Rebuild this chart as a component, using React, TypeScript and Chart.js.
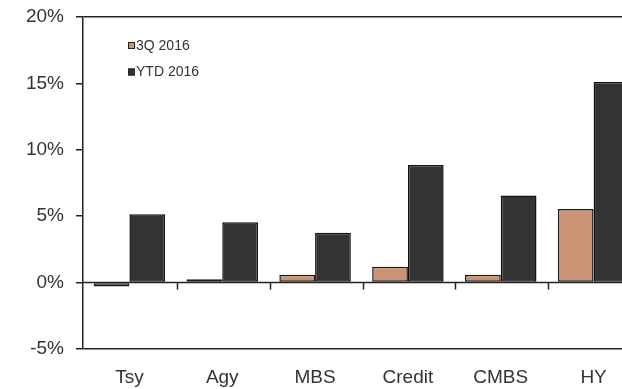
import React, { useEffect, useRef } from "react";
import { Chart, registerables } from "chart.js";

Chart.register(...registerables);

const categories = ["Tsy", "Agy", "MBS", "Credit", "CMBS", "HY"];
const q3_2016 = [-0.3, 0.25, 0.6, 1.2, 0.6, 5.55];
const ytd_2016 = [5.15, 4.55, 3.75, 8.85, 6.55, 15.1];
const seriesNames = ["3Q 2016", "YTD 2016"];
const yTicks = { min: -5, max: 20, step: 5 };

const COLOR_3Q = "#CB9475";
const COLOR_YTD = "#333333";

const zeroLinePlugin = {
  id: "zeroLine",
  beforeDatasetsDraw(chart: any) {
    const { ctx, chartArea, scales } = chart;
    const x = scales.x;
    const y = scales.y;
    const y0 = y.getPixelForValue(0);
    ctx.save();
    ctx.strokeStyle = "#222";
    ctx.lineWidth = 1.5;
    ctx.beginPath();
    ctx.moveTo(chartArea.left, y0);
    ctx.lineTo(chartArea.right, y0);
    ctx.stroke();
    const n = categories.length;
    for (let i = 0; i < n - 1; i++) {
      const xa = x.getPixelForValue(i);
      const xb = x.getPixelForValue(i + 1);
      const xm = Math.round((xa + xb) / 2) + 1.5;
      ctx.beginPath();
      ctx.moveTo(xm, y0);
      ctx.lineTo(xm, y0 + 7);
      ctx.stroke();
    }
    ctx.restore();
  },
};

const legendPlugin = {
  id: "innerLegend",
  afterDraw(chart: any) {
    const { ctx } = chart;
    const items = chart.data.datasets.map((d: any) => ({
      label: d.label,
      color: d.backgroundColor,
    }));
    const x0 = 128;
    const ys = [45.5, 72];
    ctx.save();
    items.forEach((it: any, i: number) => {
      const y = ys[i];
      ctx.fillStyle = it.color;
      ctx.fillRect(x0, y - 3.5, 7, 7);
      ctx.strokeStyle = "#222";
      ctx.lineWidth = 1;
      ctx.strokeRect(x0 + 0.5, y - 3, 6, 6);
      ctx.fillStyle = "#333";
      ctx.font = "14px 'Liberation Sans', Arial, sans-serif";
      ctx.textBaseline = "middle";
      ctx.textAlign = "left";
      ctx.fillText(it.label, x0 + 8, y + 0.5);
    });
    ctx.restore();
  },
};

export default function App() {
  const ref = useRef<HTMLCanvasElement | null>(null);

  useEffect(() => {
    if (!ref.current) return;
    const chart = new Chart(ref.current, {
      type: "bar",
      data: {
        labels: categories,
        datasets: [
          {
            label: seriesNames[0],
            data: q3_2016,
            backgroundColor: COLOR_3Q,
            borderColor: "#1a1a1a",
            borderWidth: 1.5,
            borderSkipped: false,
            categoryPercentage: 0.77,
            barPercentage: 1.0,
          },
          {
            label: seriesNames[1],
            data: ytd_2016,
            backgroundColor: COLOR_YTD,
            borderColor: "#111111",
            borderWidth: 1.5,
            borderSkipped: false,
            categoryPercentage: 0.77,
            barPercentage: 1.0,
          },
        ],
      },
      options: {
        animation: false,
        responsive: false,
        maintainAspectRatio: false,
        layout: { padding: { left: 0, right: 0, top: 17, bottom: 0 } },
        plugins: {
          legend: { display: false },
          tooltip: { enabled: false },
        },
        scales: {
          x: {
            grid: { display: false, drawTicks: false },
            border: { display: false },
            ticks: {
              color: "#333",
              padding: 17,
              font: { family: "'Liberation Sans', Arial, sans-serif", size: 19 },
            },
            afterFit(scale: any) {
              scale.height = 40;
            },
          },
          y: {
            min: yTicks.min,
            max: yTicks.max,
            ticks: {
              stepSize: yTicks.step,
              color: "#333",
              padding: 12,
              font: { family: "'Liberation Sans', Arial, sans-serif", size: 19 },
              callback: (v: any) => `${v}%`,
            },
            grid: {
              drawTicks: true,
              tickLength: 7,
              tickColor: "#222",
              lineWidth: 1.5,
              color: (c: any) =>
                c.tick && (c.tick.value === yTicks.max || c.tick.value === yTicks.min)
                  ? "#222"
                  : "rgba(0,0,0,0)",
            },
            border: { display: true, color: "#222", width: 1.5 },
            afterFit(scale: any) {
              scale.width = 83;
              scale.paddingTop = 0;
              scale.paddingBottom = 0;
            },
          },
        },
      },
      plugins: [zeroLinePlugin, legendPlugin],
    });
    return () => chart.destroy();
  }, []);

  return (
    <div
      style={{
        position: "fixed",
        left: 0,
        top: 0,
        width: 622,
        height: 389,
        overflow: "hidden",
        background: "#fff",
      }}
    >
      <canvas ref={ref} width={640} height={389} style={{ display: "block" }} />
    </div>
  );
}
